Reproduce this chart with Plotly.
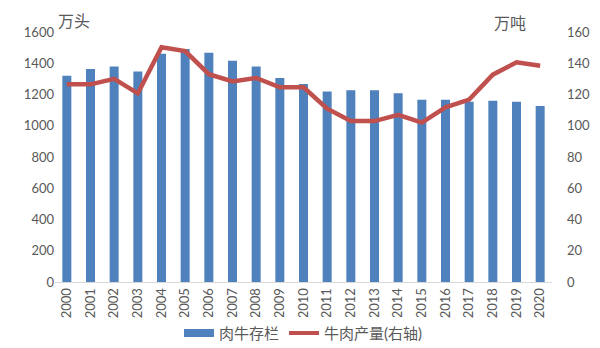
import plotly.graph_objects as go

years = [str(y) for y in range(2000, 2021)]
cattle_stock = [1320, 1363, 1380, 1348, 1461, 1491, 1468, 1416, 1380, 1306, 1267,
                1220, 1227, 1227, 1208, 1167, 1167, 1154, 1160, 1154, 1126]
beef_output = [126.5, 126.5, 130.0, 120.7, 150.2, 147.8, 133.0, 128.4, 130.6, 124.6, 124.6,
               110.9, 103.0, 103.0, 107.0, 102.0, 111.8, 116.7, 132.7, 140.6, 138.4]

FONT = "Lato, 'Noto Sans CJK SC', sans-serif"
GRAY = "#595959"
BLUE = "#4F81BD"
RED = "#C0504D"

fig = go.Figure()
fig.add_trace(go.Bar(x=years, y=cattle_stock, name="肉牛存栏",
                     marker=dict(color=BLUE, line=dict(width=0)),
                     yaxis="y", showlegend=False))
fig.add_trace(go.Scatter(x=years, y=beef_output, name="牛肉产量(右轴)", mode="lines",
                         line=dict(color=RED, width=4.5), yaxis="y2", showlegend=False))
# legend entries (Excel-style wide swatches)
fig.add_trace(go.Scatter(x=[None], y=[None], name="肉牛存栏", mode="lines",
                         line=dict(color=BLUE, width=8), yaxis="y"))
fig.add_trace(go.Scatter(x=[None], y=[None], name="牛肉产量(右轴)", mode="lines",
                         line=dict(color=RED, width=4), yaxis="y2"))

fig.update_layout(
    width=600, height=348,
    margin=dict(l=55, r=48, t=32, b=66, autoexpand=False),
    paper_bgcolor="white", plot_bgcolor="white",
    font=dict(family=FONT, size=13, color=GRAY),
    bargap=0.62,
    showlegend=True,
    legend=dict(orientation="h", x=0.5, xanchor="center", y=-0.205, yanchor="middle",
                font=dict(size=15, color=GRAY), traceorder="normal"),
    xaxis=dict(type="category", tickangle=-90, showline=True, linecolor="#D9D9D9",
               linewidth=1, showgrid=False, ticks="", automargin=False,
               tickfont=dict(size=13, color=GRAY)),
    yaxis=dict(range=[0, 1600], dtick=200, showgrid=False, zeroline=False,
               showline=False, ticks="", automargin=False,
               tickfont=dict(size=13, color=GRAY)),
    yaxis2=dict(range=[0, 160], dtick=20, overlaying="y", side="right", showgrid=False,
                zeroline=False, showline=False, ticks="", ticklabelstandoff=14,
                automargin=False, tickfont=dict(size=13, color=GRAY)),
    annotations=[
        dict(text="万头", xref="paper", yref="paper", x=(74 - 55) / 497, y=1.044,
             xanchor="center", yanchor="middle", showarrow=False,
             font=dict(size=16, color=GRAY, family=FONT)),
        dict(text="万吨", xref="paper", yref="paper", x=(510 - 55) / 497, y=1.036,
             xanchor="center", yanchor="middle", showarrow=False,
             font=dict(size=16, color=GRAY, family=FONT)),
    ],
)

fig.write_html("out.html")
